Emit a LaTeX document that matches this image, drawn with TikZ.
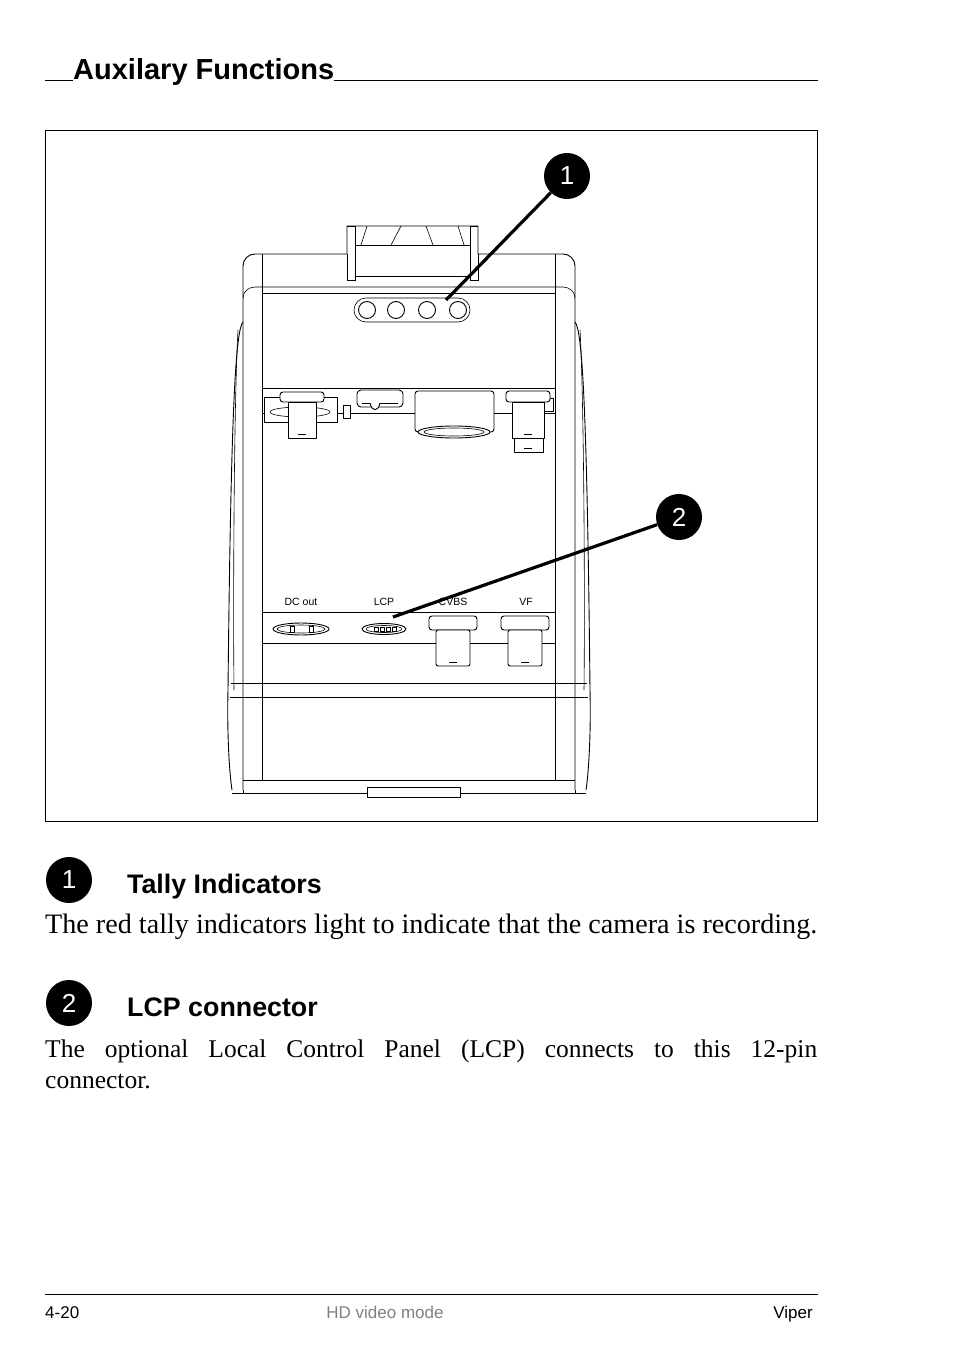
\documentclass[tikz,border=0pt]{standalone}
\usepackage{fontspec}
\setmainfont{Liberation Serif}
\setsansfont{Liberation Sans}
\usepackage{graphicx}
\begin{document}
\begin{tikzpicture}[x=1pt,y=-1pt,
  ln/.style={line width=0.9pt,line join=round},
  thin/.style={line width=0.6pt},
  callout/.style={circle,fill=black,minimum size=46pt,inner sep=0pt,text=white,font=\sffamily\fontsize{26}{26}\selectfont},
  pointer/.style={line width=3.2pt},
  lbl/.style={font=\sffamily\fontsize{10.5}{12}\selectfont,anchor=base},
  head/.style={font=\sffamily\bfseries\fontsize{26.8}{30}\selectfont,anchor=base west,inner sep=0pt},
  body/.style={font=\rmfamily\fontsize{24}{31}\selectfont,anchor=base west,inner sep=0pt},
  foot/.style={font=\sffamily\fontsize{17}{20}\selectfont,inner sep=0pt}]
\useasboundingbox (0,0) rectangle (954,1351);
% heading
\node[head,font=\sffamily\bfseries\fontsize{29}{32}\selectfont] (title) at (73,80) {Auxilary Functions};
\draw[thin] (45,80) -- (title.base west);
\draw[thin] (title.base east) -- (818,80);
% frame
\draw[thin] (45,130) rectangle (817,821);
% ---- camera ----
\draw[ln] (243,322) .. controls (236,330) and (231,400) .. (228,690) .. controls (227,730) and (229,770) .. (232,790);
\draw[ln] (575,322) .. controls (582,330) and (587,400) .. (590,690) .. controls (591,730) and (589,770) .. (586,790);
\draw[thin] (238,330) .. controls (234,400) and (233,600) .. (234,690);
\draw[thin] (580,330) .. controls (584,400) and (585,600) .. (584,690);
\draw[ln] (243,790) -- (243,266) to[out=90,in=180] (255,254) -- (347,254) -- (347,226) -- (478,226) -- (478,254) -- (563,254) to[out=0,in=90] (575,266) -- (575,790);
\draw[ln] (232,793) -- (586,793);
\draw[ln] (243,790) -- (243,793); \draw[ln] (575,790)--(575,793);
\draw[thin] (243,298) to[out=90,in=180] (255,287) -- (563,287) to[out=0,in=90] (575,298);
\draw[thin] (262,254) -- (262,780); \draw[thin] (555,254) -- (555,780);
\draw[thin] (262,293) -- (555,293);
% handle
\draw[thin] (347,226) -- (355,226) -- (355,280) -- (347,280) -- (347,254);
\draw[thin] (478,226) -- (470,226) -- (470,280) -- (478,280) -- (478,254);
\draw[thin] (355,245) -- (470,245);
\draw[thin] (355,276) -- (470,276);
\draw[thin] (361,245) -- (367,226); \draw[thin] (391,245) -- (401,226);
\draw[thin] (433,245) -- (426,226); \draw[thin] (464,245) -- (458,226);
% tally
\draw[thin,rounded corners=12pt] (354,298) rectangle (470,322);
\foreach \x/\n in {367/ta,396/tb,427/tc,458/td}{\node[circle,draw,line width=0.9pt,minimum size=17pt,inner sep=0pt] (\n) at (\x,310) {};}
% connector row upper
\draw[thin] (262,388) -- (555,388);
\draw[thin] (262,413) -- (555,413);
\draw[ln,fill=white] (264,397) rectangle (337,422);
\draw[thin] (300,412) ellipse (30 and 5);
\draw[ln,fill=white,rounded corners=3pt] (280,392) rectangle (324,402);
\draw[ln,fill=white] (288,402) rectangle (316,438);
\draw[thin] (298,434) -- (306,434);
\draw[ln,fill=white] (343,405) rectangle (350,418);
\draw[ln,fill=white,rounded corners=4pt] (357,390) rectangle (403,407);
\draw[thin] (362,403) -- (398,403);
\draw[ln,fill=white] (370,403) .. controls (372,412) and (378,412) .. (380,403);
\draw[ln,fill=white,rounded corners=3pt] (415,391) rectangle (494,432);
\draw[ln,fill=white] (454,432) ellipse (36 and 6);
\draw[thin] (454,432) ellipse (30 and 4);
\draw[ln,fill=white] (514,420) rectangle (543,452);
\draw[ln,fill=white] (540,398) rectangle (553,411);
\draw[ln,fill=white,rounded corners=3pt] (506,391) rectangle (550,402);
\draw[ln,fill=white] (512,402) rectangle (544,438);
\draw[thin] (524,434) -- (532,434); \draw[thin] (524,448) -- (532,448);
% lower connector panel
\node[lbl] (ldc) at (301,605) {DC out};
\node[lbl] (llcp) at (384,605) {LCP};
\node[lbl] (lcvbs) at (453,605) {CVBS};
\node[lbl] (lvf) at (526,605) {VF};
\draw[thin] (262,612) -- (555,612);
\draw[thin] (262,643) -- (555,643);
\draw[ln] (301,629) ellipse (28 and 6);
\draw[thin] (301,629) ellipse (24 and 4);
\draw[thin] (290,626) rectangle (294,632); \draw[thin] (309,626) rectangle (313,632);
\draw[ln] (384,629) ellipse (22 and 5.5);
\draw[thin] (384,629) ellipse (18 and 3.5);
\foreach \x in {374,380,386,392}{\draw[thin] (\x,627) rectangle (\x+4,631);}
\foreach \cx in {453,525}{
  \draw[ln,fill=white,rounded corners=3pt] (\cx-24,616) rectangle (\cx+24,630);
  \draw[ln,fill=white,rounded corners=2pt] (\cx-17,630) rectangle (\cx+17,666);
  \draw[thin] (\cx-4,662) -- (\cx+4,662);
}
\draw[thin] (231,683) -- (587,683);
\draw[thin] (230,697) -- (588,697);
\draw[thin] (243,780) -- (575,780);
\draw[ln,fill=white] (367,787) rectangle (460,797);
% callouts
\node[callout] (c1) at (567,176) {1};
\node[callout] (c2) at (679,517) {2};
\coordinate (p1) at (446,300);
\coordinate (p2) at (393,617);
\draw[pointer] (c1) -- (p1);
\draw[pointer] (c2) -- (p2);
% text section
\node[callout] (d1) at (69,880) {1};
\node[head] (h1) at (127,893) {Tally Indicators};
\node[body] (t1) at (45,933) {\resizebox{772pt}{!}{The red tally indicators light to indicate that the camera is recording.}};
\node[callout] (d2) at (69,1003) {2};
\node[head] (h2) at (127,1016) {LCP connector};
\node[body,font=\rmfamily\fontsize{25.5}{31}\selectfont] (t2a) at (45,1057) {\makebox[772pt][s]{The\hfill optional\hfill Local\hfill Control\hfill Panel\hfill (LCP)\hfill connects\hfill to\hfill this\hfill 12-pin}};
\node[body,font=\rmfamily\fontsize{25.5}{31}\selectfont] (t2b) at (45,1088) {connector.};
% footer
\draw[thin] (45,1294) -- (818,1294);
\node[foot,anchor=base west] (f1) at (45,1318) {4-20};
\node[foot,anchor=base,text=gray] (f2) at (385,1318) {HD video mode};
\node[foot,anchor=base east] (f3) at (813,1318) {Viper};
\end{tikzpicture}
\end{document}
